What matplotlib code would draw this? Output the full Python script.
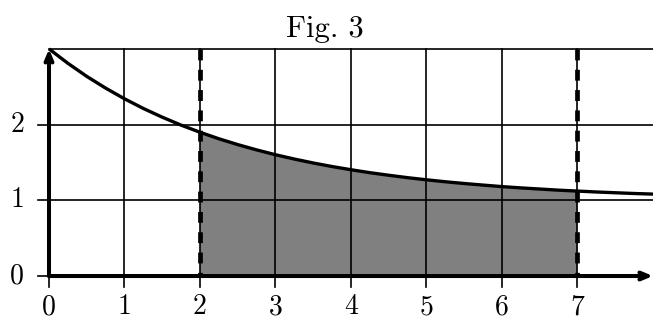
import matplotlib
matplotlib.use("Agg")
import matplotlib.pyplot as plt

# Data
x_vals = [0, 0.25, 0.5, 0.75, 1, 1.25, 1.5, 1.75, 2, 2.25, 2.5, 2.75, 3, 3.25, 3.5, 3.75,
          4, 4.25, 4.5, 4.75, 5, 5.25, 5.5, 5.75, 6, 6.25, 6.5, 6.75, 7, 7.25, 7.5, 7.75, 8]
y_vals = [3.000, 2.810, 2.637, 2.482, 2.341, 2.213, 2.098, 1.993, 1.899, 1.813, 1.736, 1.666,
          1.602, 1.545, 1.493, 1.446, 1.404, 1.365, 1.331, 1.299, 1.271, 1.245, 1.222, 1.201,
          1.181, 1.164, 1.149, 1.134, 1.122, 1.110, 1.100, 1.090, 1.082]
a, b = 2, 7
x_ticks = [0, 1, 2, 3, 4, 5, 6, 7]
y_ticks = [0, 1, 2]
x_max, y_max = 8, 3
title = "Fig. 3"

fig = plt.figure(figsize=(6.53, 3.2), dpi=100)
ax = fig.add_axes([0, 0, 1, 1])
ax.set_xlim(-0.649, 8.0)
ax.set_ylim(-0.581, 3.646)
ax.axis("off")

# Shaded area (coarse polygon at integer x)
fx = [x for x in x_vals if a <= x <= b and float(x).is_integer()]
fy = [y_vals[x_vals.index(x)] for x in fx]
ax.fill([a] + fx + [b], [0] + fy + [0], color="#808080", lw=0, zorder=1)

# Grid
for gx in range(1, x_max):
    ax.plot([gx, gx], [0, y_max], color="black", lw=1.2, zorder=2)
for gy in range(1, y_max + 1):
    ax.plot([0, x_max], [gy, gy], color="black", lw=1.2, zorder=2)

# Ticks and labels
for t in x_ticks:
    ax.plot([t, t], [0, -0.145], color="black", lw=1.2, zorder=2)
    ax.text(t, -0.41, str(t), ha="center", va="center", fontsize=20, family="cmr10")
for t in y_ticks:
    ax.plot([0, -0.145], [t, t], color="black", lw=1.2, zorder=2)
    ax.text(-0.42, t, str(t), ha="center", va="center", fontsize=20, family="cmr10")

# Curve
ax.plot(x_vals, y_vals, color="black", lw=2.4, zorder=4, solid_capstyle="butt")

# Dashed bounds (drawn from the top down)
for v in (a, b):
    ax.plot([v, v], [y_max, 0], color="black", lw=3.4, dashes=(2.3, 2.0), zorder=5)

# Axes with arrows
arrow = dict(arrowstyle="->,head_length=0.6,head_width=0.25", lw=2.9, color="black",
             shrinkA=0, shrinkB=0)
ax.annotate("", xy=(x_max, 0), xytext=(0, 0), arrowprops=arrow, zorder=6)
ax.annotate("", xy=(0, y_max), xytext=(0, 0), arrowprops=arrow, zorder=6)

ax.text(3.66, 3.157, title, ha="center", va="baseline", fontsize=22, family="cmr10")

fig.savefig("out.png", dpi=100)
